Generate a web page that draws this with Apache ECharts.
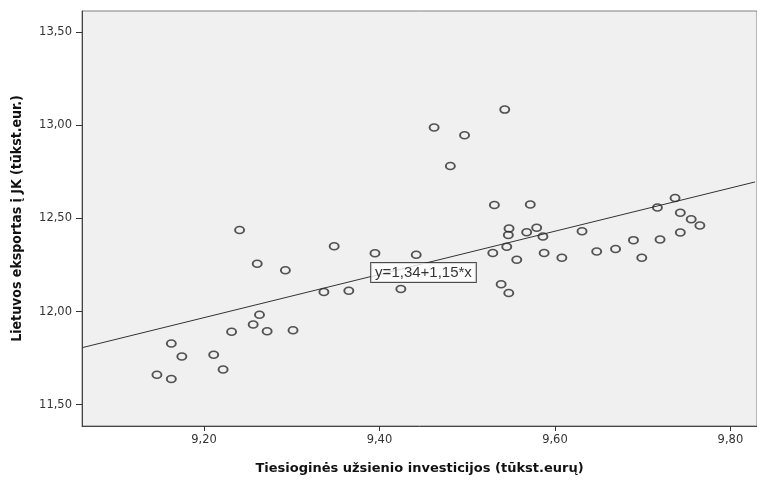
<!DOCTYPE html>
<html>
<head>
<meta charset="utf-8">
<script src="https://cdn.jsdelivr.net/npm/echarts@6/dist/echarts.min.js"></script>
<style>html,body{margin:0;padding:0;background:#fff;}#c{width:757px;height:480px;}</style>
</head>
<body>
<div id="c"></div>
<script>
// Data
const investX = [9.2406, 9.2607, 9.2928, 9.3367, 9.2633, 9.2561, 9.2315, 9.2720, 9.3015, 9.1628,
  9.1748, 9.2111, 9.2218, 9.1464, 9.1628, 9.5428, 9.4623, 9.4970, 9.4808, 9.5310,
  9.5719, 9.5477, 9.5469, 9.5678, 9.5792, 9.5863, 9.3484, 9.3949, 9.4419, 9.5292,
  9.5451, 9.5565, 9.5877, 9.3651, 9.4244, 9.5387, 9.5474, 9.6309, 9.6079, 9.6476,
  9.6691, 9.6895, 9.6990, 9.7198, 9.7168, 9.7369, 9.7429, 9.7553, 9.7652, 9.7429];
const exportY = [12.437, 12.256, 12.221, 12.105, 11.983, 11.930, 11.892, 11.894, 11.899, 11.829,
  11.759, 11.768, 11.689, 11.661, 11.638, 13.083, 12.987, 12.945, 12.781, 12.571,
  12.574, 12.446, 12.410, 12.425, 12.450, 12.403, 12.350, 12.312, 12.305, 12.314,
  12.347, 12.278, 12.314, 12.112, 12.121, 12.146, 12.100, 12.431, 12.289, 12.322,
  12.336, 12.383, 12.289, 12.387, 12.558, 12.609, 12.530, 12.495, 12.462, 12.424];
const fitLineX = [9.061, 9.828];
const fitLineY = [11.806, 12.695];
const fitLabel = 'y=1,34+1,15*x';
const fitLabelPos = [9.4502, 12.210];
const xTicks = [9.2, 9.4, 9.6, 9.8];
const yTicks = [11.5, 12.0, 12.5, 13.0, 13.5];
const xTitle = 'Tiesioginės užsienio investicijos (tūkst.eurų)';
const yTitle = 'Lietuvos eksportas į JK (tūkst.eur.)';

const fmt = v => v.toFixed(2).replace('.', ',');
const chart = echarts.init(document.getElementById('c'), null, {renderer: 'canvas'});
const points = investX.map((x, i) => [x, exportY[i]]);
const lineData = fitLineX.map((x, i) => [x, fitLineY[i]]);

chart.setOption({
  animation: false,
  backgroundColor: '#ffffff',
  grid: {left: 82, top: 11, right: -3, bottom: 45, show: true,
    backgroundColor: '#f0f0f0', borderColor: '#808080', borderWidth: 1},
  xAxis: {
    type: 'value', min: 9.061, max: 9.8303,
    name: xTitle, nameLocation: 'middle', nameGap: 36,
    nameTextStyle: {fontFamily: 'DejaVu Sans', fontWeight: 'bold', fontSize: 13, color: '#111'},
    axisLine: {show: true, onZero: false, lineStyle: {color: '#444', width: 1}},
    axisTick: {show: true, length: 5, customValues: xTicks, lineStyle: {color: '#333'}},
    axisLabel: {customValues: xTicks, formatter: fmt, margin: 8,
      fontFamily: 'DejaVu Sans', fontSize: 11.5, color: '#333'},
    splitLine: {show: false}
  },
  yAxis: {
    type: 'value', min: 11.386, max: 13.612,
    name: yTitle, nameLocation: 'middle', nameGap: 58,
    nameTextStyle: {fontFamily: '"Liberation Sans Narrow", "DejaVu Sans Condensed", sans-serif', fontWeight: 'bold', fontSize: 14, color: '#111'},
    axisLine: {show: true, onZero: false, lineStyle: {color: '#444', width: 1}},
    axisTick: {show: true, length: 6, customValues: yTicks, lineStyle: {color: '#333'}},
    axisLabel: {customValues: yTicks, formatter: fmt, margin: 10,
      fontFamily: 'DejaVu Sans', fontSize: 11.5, color: '#333'},
    splitLine: {show: false}
  },
  series: [
    {
      type: 'line', data: lineData, symbol: 'none', silent: true,
      lineStyle: {color: '#333', width: 1}, z: 2
    },
    {
      type: 'scatter', data: points, symbol: 'circle', symbolSize: [9, 7],
      itemStyle: {color: 'rgba(0,0,0,0)', borderColor: '#2a2a2a', borderWidth: 1.7}, z: 3
    },
    {
      type: 'scatter', data: [fitLabelPos], symbolSize: 0, z: 5, silent: true,
      label: {show: true, position: 'inside', formatter: fitLabel,
        fontFamily: '"Liberation Sans", Arial, sans-serif', fontSize: 15, color: '#000',
        backgroundColor: '#ffffff', borderColor: '#222', borderWidth: 1,
        padding: [2, 4, 1, 4], lineHeight: 16}
    }
  ]
});
</script>
</body>
</html>
